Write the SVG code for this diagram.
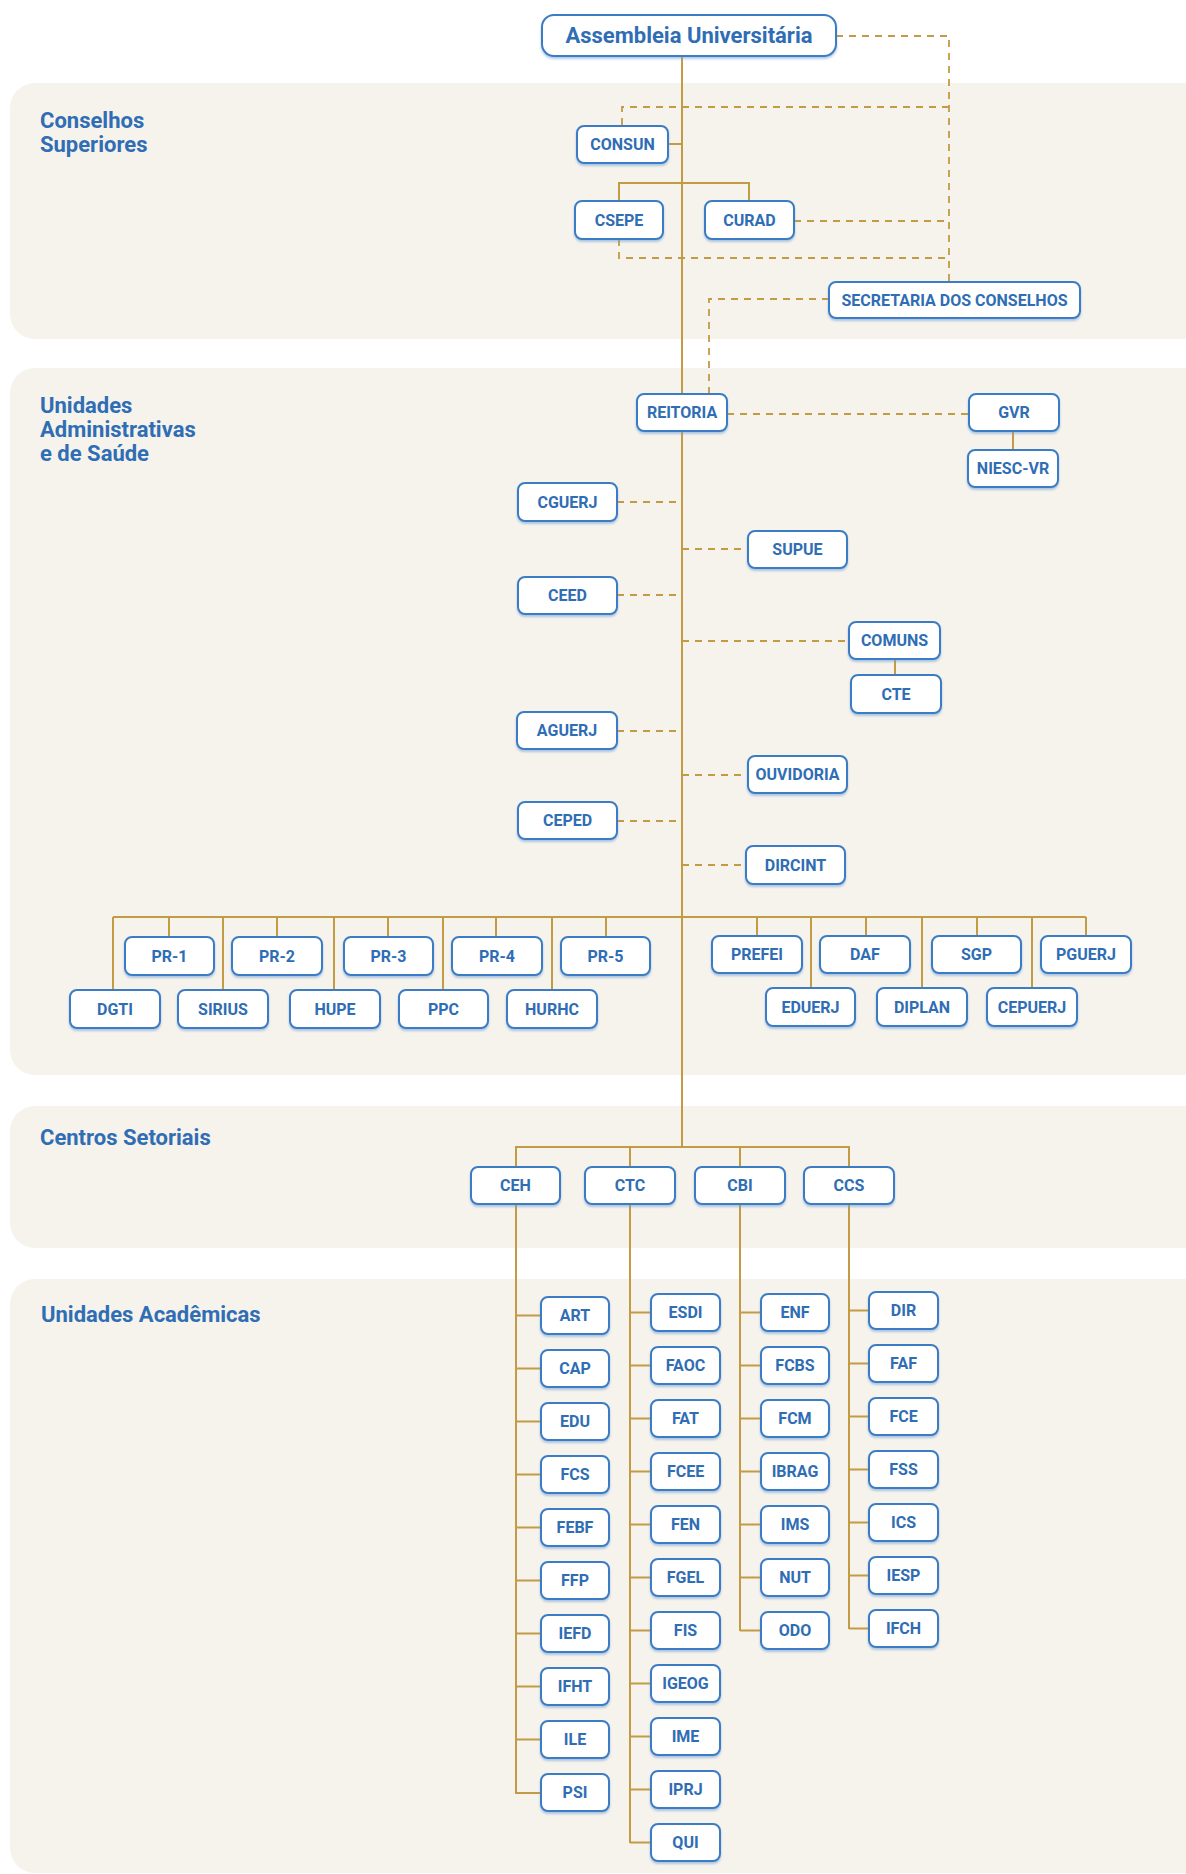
<svg xmlns="http://www.w3.org/2000/svg" width="1186" height="1874" viewBox="0 0 1186 1874">
<defs>
<filter id="sh" x="-10%" y="-10%" width="120%" height="140%">
<feDropShadow dx="0" dy="2" stdDeviation="0.8" flood-color="#6f9fd6" flood-opacity="0.55"/>
</filter>
<style>
.band{fill:#f6f3ec}
.node rect{fill:#ffffff;stroke:#3a7cc4;stroke-width:2;filter:url(#sh)}
.node text{font-family:Roboto,"Liberation Sans",sans-serif;font-weight:700;font-size:16px;fill:#2f6db4;text-anchor:middle}
.sec{font-family:Roboto,"Liberation Sans",sans-serif;font-weight:700;font-size:22px;fill:#2f6db4}
.ln{stroke:#c49b45;stroke-width:2;fill:none}
.ds{stroke:#c49b45;stroke-width:1.8;fill:none;stroke-dasharray:7 6}
</style>
</defs>
<rect width="1186" height="1874" fill="#ffffff"/>
<g id="bands">
<rect class="band" x="10" y="83" width="1200" height="256" rx="25"/>
<rect class="band" x="10" y="368" width="1200" height="707" rx="25"/>
<rect class="band" x="10" y="1106" width="1200" height="142" rx="25"/>
<rect class="band" x="10" y="1279" width="1200" height="594" rx="25"/>
</g>
<g id="section-labels">
<text class="sec" x="40" y="128">Conselhos</text>
<text class="sec" x="40" y="152">Superiores</text>
<text class="sec" x="40" y="413">Unidades</text>
<text class="sec" x="40" y="437">Administrativas</text>
<text class="sec" x="40" y="461">e de Saúde</text>
<text class="sec" x="40" y="1145">Centros Setoriais</text>
<text class="sec" x="41" y="1322">Unidades Acadêmicas</text>
</g>
<g id="connectors">
<path class="ln" d="M682,56 V1147"/>
<path class="ds" d="M836,36 H949 V282"/>
<path class="ds" d="M949,107 H622 V126"/>
<path class="ln" d="M668,144 H682"/>
<path class="ln" d="M619,201 V183 H749 V201"/>
<path class="ds" d="M794,221 H949"/>
<path class="ds" d="M619,239 V258 H949"/>
<path class="ds" d="M829,299 H709 V394"/>
<path class="ds" d="M727,414 H969"/>
<path class="ln" d="M1013,431 V450"/>
<path class="ds" d="M617,502 H682"/>
<path class="ds" d="M682,549 H748"/>
<path class="ds" d="M617,595 H682"/>
<path class="ds" d="M682,641 H849"/>
<path class="ln" d="M895,659 V675"/>
<path class="ds" d="M617,731 H682"/>
<path class="ds" d="M682,775 H748"/>
<path class="ds" d="M617,821 H682"/>
<path class="ds" d="M682,865 H746"/>
<path class="ln" d="M113,917 H1086"/>
<path class="ln" d="M113,917 V990 M169,917 V937 M223,917 V990 M277,917 V937 M334,917 V990 M388,917 V937 M443,917 V990 M496,917 V937 M552,917 V990 M606,917 V937"/>
<path class="ln" d="M757,917 V936 M811,917 V988 M866,917 V936 M922,917 V988 M977,917 V936 M1032,917 V988 M1086,917 V936"/>
<path class="ln" d="M516,1167 V1147 H849 V1167 M630,1147 V1167 M740,1147 V1167"/>
<path class="ln" d="M516,1204 V1794 M630,1204 V1843 M740,1204 V1631 M849,1204 V1629"/>
<path class="ln" d="M516,1315.5 H541 M516,1368.5 H541 M516,1421.5 H541 M516,1474.5 H541 M516,1527.5 H541 M516,1580.5 H541 M516,1633.5 H541 M516,1686.5 H541 M516,1739.5 H541 M516,1793 H541"/>
<path class="ln" d="M630,1312.5 H651 M630,1365.5 H651 M630,1418.5 H651 M630,1471.5 H651 M630,1524.5 H651 M630,1577.5 H651 M630,1630.5 H651 M630,1683.5 H651 M630,1736.5 H651 M630,1789.5 H651 M630,1842.5 H651"/>
<path class="ln" d="M740,1312.5 H761 M740,1365.5 H761 M740,1418.5 H761 M740,1471.5 H761 M740,1524.5 H761 M740,1577.5 H761 M740,1630.5 H761"/>
<path class="ln" d="M849,1310.5 H869 M849,1363.5 H869 M849,1416.5 H869 M849,1469.5 H869 M849,1522.5 H869 M849,1575.5 H869 M849,1628.5 H869"/>
</g>
<g id="n-assembleia" class="node"><rect x="542" y="15" width="294" height="41" rx="12"/><text x="689" y="43" style="font-size:22px">Assembleia Universitária</text></g>
<g id="n-consun" class="node"><rect x="577" y="126" width="91" height="37" rx="7"/><text x="622.5" y="150">CONSUN</text></g>
<g id="n-csepe" class="node"><rect x="575" y="201" width="88" height="38" rx="7"/><text x="619" y="226">CSEPE</text></g>
<g id="n-curad" class="node"><rect x="705" y="201" width="89" height="38" rx="7"/><text x="749.5" y="226">CURAD</text></g>
<g id="n-secretaria" class="node"><rect x="829" y="282" width="251" height="36" rx="7"/><text x="954.5" y="306">SECRETARIA DOS CONSELHOS</text></g>
<g id="n-reitoria" class="node"><rect x="637" y="394" width="90" height="37" rx="7"/><text x="682" y="418">REITORIA</text></g>
<g id="n-gvr" class="node"><rect x="969" y="394" width="90" height="37" rx="7"/><text x="1014" y="418">GVR</text></g>
<g id="n-niesc-vr" class="node"><rect x="968" y="450" width="90" height="37" rx="7"/><text x="1013" y="474">NIESC-VR</text></g>
<g id="n-cguerj" class="node"><rect x="518" y="483" width="99" height="38" rx="7"/><text x="567.5" y="508">CGUERJ</text></g>
<g id="n-supue" class="node"><rect x="748" y="531" width="99" height="37" rx="7"/><text x="797.5" y="555">SUPUE</text></g>
<g id="n-ceed" class="node"><rect x="518" y="577" width="99" height="37" rx="7"/><text x="567.5" y="601">CEED</text></g>
<g id="n-comuns" class="node"><rect x="849" y="622" width="91" height="37" rx="7"/><text x="894.5" y="646">COMUNS</text></g>
<g id="n-cte" class="node"><rect x="851" y="675" width="90" height="38" rx="7"/><text x="896" y="700">CTE</text></g>
<g id="n-aguerj" class="node"><rect x="517" y="712" width="100" height="37" rx="7"/><text x="567" y="736">AGUERJ</text></g>
<g id="n-ouvidoria" class="node"><rect x="748" y="756" width="99" height="37" rx="7"/><text x="797.5" y="780">OUVIDORIA</text></g>
<g id="n-ceped" class="node"><rect x="518" y="802" width="99" height="37" rx="7"/><text x="567.5" y="826">CEPED</text></g>
<g id="n-dircint" class="node"><rect x="746" y="846" width="99" height="38" rx="7"/><text x="795.5" y="871">DIRCINT</text></g>
<g id="n-pr1" class="node"><rect x="125" y="937" width="89" height="38" rx="7"/><text x="169.5" y="962">PR-1</text></g>
<g id="n-pr2" class="node"><rect x="232" y="937" width="90" height="38" rx="7"/><text x="277" y="962">PR-2</text></g>
<g id="n-pr3" class="node"><rect x="344" y="937" width="89" height="38" rx="7"/><text x="388.5" y="962">PR-3</text></g>
<g id="n-pr4" class="node"><rect x="452" y="937" width="90" height="38" rx="7"/><text x="497" y="962">PR-4</text></g>
<g id="n-pr5" class="node"><rect x="561" y="937" width="89" height="38" rx="7"/><text x="605.5" y="962">PR-5</text></g>
<g id="n-dgti" class="node"><rect x="70" y="990" width="90" height="38" rx="7"/><text x="115" y="1015">DGTI</text></g>
<g id="n-sirius" class="node"><rect x="178" y="990" width="90" height="38" rx="7"/><text x="223" y="1015">SIRIUS</text></g>
<g id="n-hupe" class="node"><rect x="290" y="990" width="90" height="38" rx="7"/><text x="335" y="1015">HUPE</text></g>
<g id="n-ppc" class="node"><rect x="399" y="990" width="89" height="38" rx="7"/><text x="443.5" y="1015">PPC</text></g>
<g id="n-hurhc" class="node"><rect x="507" y="990" width="90" height="38" rx="7"/><text x="552" y="1015">HURHC</text></g>
<g id="n-prefei" class="node"><rect x="712" y="936" width="90" height="37" rx="7"/><text x="757" y="960">PREFEI</text></g>
<g id="n-daf" class="node"><rect x="820" y="936" width="90" height="37" rx="7"/><text x="865" y="960">DAF</text></g>
<g id="n-sgp" class="node"><rect x="932" y="936" width="89" height="37" rx="7"/><text x="976.5" y="960">SGP</text></g>
<g id="n-pguerj" class="node"><rect x="1041" y="936" width="90" height="37" rx="7"/><text x="1086" y="960">PGUERJ</text></g>
<g id="n-eduerj" class="node"><rect x="766" y="988" width="89" height="38" rx="7"/><text x="810.5" y="1013">EDUERJ</text></g>
<g id="n-diplan" class="node"><rect x="877" y="988" width="90" height="38" rx="7"/><text x="922" y="1013">DIPLAN</text></g>
<g id="n-cepuerj" class="node"><rect x="987" y="988" width="90" height="38" rx="7"/><text x="1032" y="1013">CEPUERJ</text></g>
<g id="n-ceh" class="node"><rect x="471" y="1167" width="89" height="37" rx="7"/><text x="515.5" y="1191">CEH</text></g>
<g id="n-ctc" class="node"><rect x="585" y="1167" width="90" height="37" rx="7"/><text x="630" y="1191">CTC</text></g>
<g id="n-cbi" class="node"><rect x="695" y="1167" width="90" height="37" rx="7"/><text x="740" y="1191">CBI</text></g>
<g id="n-ccs" class="node"><rect x="804" y="1167" width="90" height="37" rx="7"/><text x="849" y="1191">CCS</text></g>
<g id="n-art" class="node"><rect x="541" y="1297" width="68" height="37" rx="7"/><text x="575" y="1321">ART</text></g>
<g id="n-cap" class="node"><rect x="541" y="1350" width="68" height="37" rx="7"/><text x="575" y="1374">CAP</text></g>
<g id="n-edu" class="node"><rect x="541" y="1403" width="68" height="37" rx="7"/><text x="575" y="1427">EDU</text></g>
<g id="n-fcs" class="node"><rect x="541" y="1456" width="68" height="37" rx="7"/><text x="575" y="1480">FCS</text></g>
<g id="n-febf" class="node"><rect x="541" y="1509" width="68" height="37" rx="7"/><text x="575" y="1533">FEBF</text></g>
<g id="n-ffp" class="node"><rect x="541" y="1562" width="68" height="37" rx="7"/><text x="575" y="1586">FFP</text></g>
<g id="n-iefd" class="node"><rect x="541" y="1615" width="68" height="37" rx="7"/><text x="575" y="1639">IEFD</text></g>
<g id="n-ifht" class="node"><rect x="541" y="1668" width="68" height="37" rx="7"/><text x="575" y="1692">IFHT</text></g>
<g id="n-ile" class="node"><rect x="541" y="1721" width="68" height="37" rx="7"/><text x="575" y="1745">ILE</text></g>
<g id="n-psi" class="node"><rect x="541" y="1774" width="68" height="37" rx="7"/><text x="575" y="1798">PSI</text></g>
<g id="n-esdi" class="node"><rect x="651" y="1294" width="69" height="37" rx="7"/><text x="685.5" y="1318">ESDI</text></g>
<g id="n-faoc" class="node"><rect x="651" y="1347" width="69" height="37" rx="7"/><text x="685.5" y="1371">FAOC</text></g>
<g id="n-fat" class="node"><rect x="651" y="1400" width="69" height="37" rx="7"/><text x="685.5" y="1424">FAT</text></g>
<g id="n-fcee" class="node"><rect x="651" y="1453" width="69" height="37" rx="7"/><text x="685.5" y="1477">FCEE</text></g>
<g id="n-fen" class="node"><rect x="651" y="1506" width="69" height="37" rx="7"/><text x="685.5" y="1530">FEN</text></g>
<g id="n-fgel" class="node"><rect x="651" y="1559" width="69" height="37" rx="7"/><text x="685.5" y="1583">FGEL</text></g>
<g id="n-fis" class="node"><rect x="651" y="1612" width="69" height="37" rx="7"/><text x="685.5" y="1636">FIS</text></g>
<g id="n-igeog" class="node"><rect x="651" y="1665" width="69" height="37" rx="7"/><text x="685.5" y="1689">IGEOG</text></g>
<g id="n-ime" class="node"><rect x="651" y="1718" width="69" height="37" rx="7"/><text x="685.5" y="1742">IME</text></g>
<g id="n-iprj" class="node"><rect x="651" y="1771" width="69" height="37" rx="7"/><text x="685.5" y="1795">IPRJ</text></g>
<g id="n-qui" class="node"><rect x="651" y="1824" width="69" height="37" rx="7"/><text x="685.5" y="1848">QUI</text></g>
<g id="n-enf" class="node"><rect x="761" y="1294" width="68" height="37" rx="7"/><text x="795" y="1318">ENF</text></g>
<g id="n-fcbs" class="node"><rect x="761" y="1347" width="68" height="37" rx="7"/><text x="795" y="1371">FCBS</text></g>
<g id="n-fcm" class="node"><rect x="761" y="1400" width="68" height="37" rx="7"/><text x="795" y="1424">FCM</text></g>
<g id="n-ibrag" class="node"><rect x="761" y="1453" width="68" height="37" rx="7"/><text x="795" y="1477">IBRAG</text></g>
<g id="n-ims" class="node"><rect x="761" y="1506" width="68" height="37" rx="7"/><text x="795" y="1530">IMS</text></g>
<g id="n-nut" class="node"><rect x="761" y="1559" width="68" height="37" rx="7"/><text x="795" y="1583">NUT</text></g>
<g id="n-odo" class="node"><rect x="761" y="1612" width="68" height="37" rx="7"/><text x="795" y="1636">ODO</text></g>
<g id="n-dir" class="node"><rect x="869" y="1292" width="69" height="37" rx="7"/><text x="903.5" y="1316">DIR</text></g>
<g id="n-faf" class="node"><rect x="869" y="1345" width="69" height="37" rx="7"/><text x="903.5" y="1369">FAF</text></g>
<g id="n-fce" class="node"><rect x="869" y="1398" width="69" height="37" rx="7"/><text x="903.5" y="1422">FCE</text></g>
<g id="n-fss" class="node"><rect x="869" y="1451" width="69" height="37" rx="7"/><text x="903.5" y="1475">FSS</text></g>
<g id="n-ics" class="node"><rect x="869" y="1504" width="69" height="37" rx="7"/><text x="903.5" y="1528">ICS</text></g>
<g id="n-iesp" class="node"><rect x="869" y="1557" width="69" height="37" rx="7"/><text x="903.5" y="1581">IESP</text></g>
<g id="n-ifch" class="node"><rect x="869" y="1610" width="69" height="37" rx="7"/><text x="903.5" y="1634">IFCH</text></g>
</svg>
